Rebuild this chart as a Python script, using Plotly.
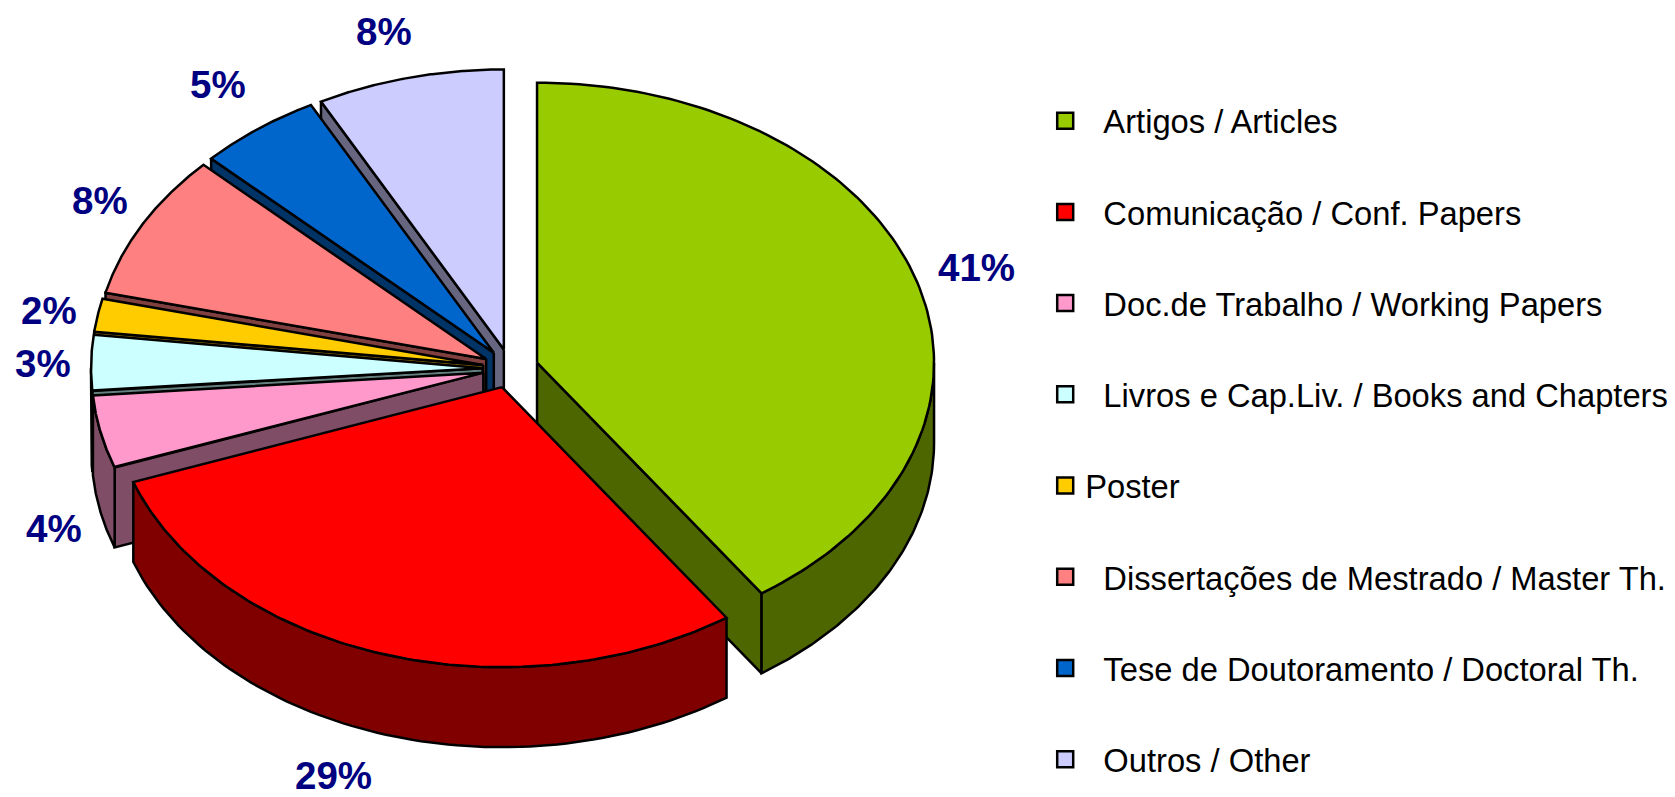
import numpy as np
import plotly.graph_objects as go

# valores (%)
categorias = [
    "\u00a0\u00a0Artigos / Articles",
    "\u00a0\u00a0Comunicação / Conf. Papers",
    "\u00a0\u00a0Doc.de Trabalho / Working Papers",
    "\u00a0\u00a0Livros e Cap.Liv. / Books and Chapters",
    "Poster",
    "\u00a0\u00a0Dissertações de Mestrado / Master Th.",
    "\u00a0\u00a0Tese de Doutoramento / Doctoral Th.",
    "\u00a0\u00a0Outros / Other",
]
valores = [40.4, 29.1, 4.2, 3.2, 1.9, 8.4, 5.1, 7.7]
rotulos = ["41%", "29%", "4%", "3%", "2%", "8%", "5%", "8%"]

cores = ["#99CC00", "#FF0000", "#FF99CC", "#CCFFFF", "#FFCC00", "#FF8080", "#0066CC", "#CCCCFF"]
cores_lado = ["#4D6600", "#800000", "#804D66", "#668080", "#806600", "#804040", "#003366", "#666680"]

# posicao dos rotulos em pixeis
rotulo_x = [976, 333, 54, 43, 49, 100, 218, 384]
rotulo_y = [267, 775, 528, 363, 310, 200, 84, 31]

# geometria da pizza 3D
CX, CY = 510.5, 368.5
RX, RY = 397, 280
ENCOLHE_ESQ = 5.3  # o lado esquerdo do original e um pouco mais estreito
EXPLODE = 0.07
PROF = 80
LINHA = dict(color="black", width=2.5)


def pt(t, ox, oy):
    s = np.sin(t)
    return ox + (RX - ENCOLHE_ESQ * (1 - s) / 2) * s, oy - RY * np.cos(t)


def poly(fig, xs, ys, cor):
    fig.add_trace(go.Scatter(
        x=np.r_[xs, xs[0]], y=np.r_[ys, ys[0]], mode="lines", fill="toself",
        fillcolor=cor, line=LINHA, showlegend=False, hoverinfo="skip",
    ))


def parede_radial(fig, t, meio, ox, oy, cor):
    px, py = pt(t, ox, oy)
    qx, qy = pt(meio, ox, oy)
    ex, ey = px - ox, py - oy
    nx, ny = ey, -ex
    if nx * (qx - ox) + ny * (qy - oy) > 0:
        nx, ny = -nx, -ny
    if ny > 1:
        poly(fig, [ox, px, px, ox], [oy, py, py + PROF, oy + PROF], cor)


fracs = np.array(valores) / sum(valores) * 2 * np.pi
fim = np.cumsum(fracs)
ini = fim - fracs
meio = (ini + fim) / 2

fig = go.Figure()

# de tras para a frente
ordem = [7, 6, 5, 4, 3, 2, 0, 1]
for i in ordem:
    ox = CX + EXPLODE * RX * np.sin(meio[i])
    oy = CY - EXPLODE * RY * np.cos(meio[i])

    parede_radial(fig, ini[i], meio[i], ox, oy, cores_lado[i])
    parede_radial(fig, fim[i], meio[i], ox, oy, cores_lado[i])

    a, b = max(ini[i], np.pi / 2), min(fim[i], 3 * np.pi / 2)
    if b > a:
        t = np.linspace(a, b, 80)
        ax, ay = pt(t, ox, oy)
        poly(fig, np.r_[ax, ax[::-1]], np.r_[ay, ay[::-1] + PROF], cores_lado[i])

    t = np.linspace(ini[i], fim[i], 120)
    ax, ay = pt(t, ox, oy)
    poly(fig, np.r_[ox, ax], np.r_[oy, ay], cores[i])

for nome, cor in zip(categorias, cores):
    fig.add_trace(go.Scatter(
        x=[None], y=[None], mode="markers", name=nome, legendgroup=nome,
        marker=dict(symbol="square", size=18, color=cor, line=LINHA),
    ))

for x, y, txt in zip(rotulo_x, rotulo_y, rotulos):
    fig.add_annotation(
        x=x, y=y, text=f"<b>{txt}</b>", showarrow=False,
        font=dict(family="Liberation Sans", size=38.5, color="#000080"),
    )

fig.update_layout(
    width=1675, height=797,
    margin=dict(l=0, r=0, t=0, b=0),
    paper_bgcolor="white", plot_bgcolor="white",
    xaxis=dict(range=[0, 1675], visible=False, fixedrange=True),
    yaxis=dict(range=[797, 0], visible=False, fixedrange=True),
    font=dict(family="Liberation Sans", color="black", size=32.7),
    legend=dict(
        x=0.624, xanchor="left", y=0.448, yanchor="middle",
        tracegroupgap=45.7, bgcolor="rgba(0,0,0,0)", traceorder="grouped",
    ),
)

# tira a margem do body para a figura ocupar a janela toda
fig.write_html(
    "out.html",
    config=dict(displayModeBar=False),
    post_script="document.body.style.margin='0';",
)
